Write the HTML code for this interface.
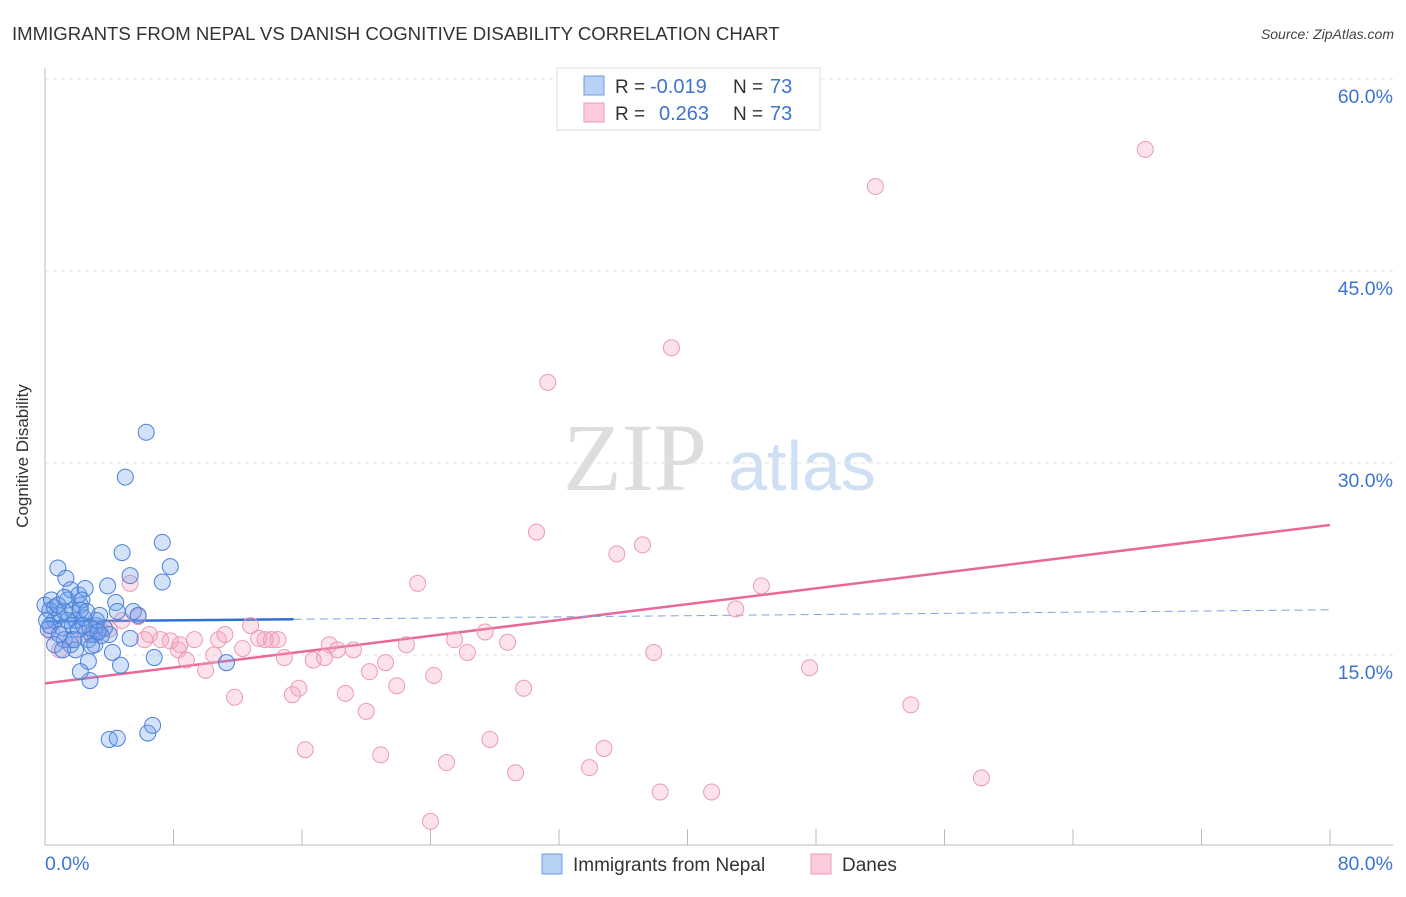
<!DOCTYPE html>
<html><head><meta charset="utf-8"><style>
body{margin:0;background:#fff;font-family:"Liberation Sans",sans-serif;}
</style></head><body>
<svg id="c" width="1406" height="892" xmlns="http://www.w3.org/2000/svg" style="font-family:'Liberation Sans',sans-serif">
<text x="12" y="40" font-size="18.6" fill="#333">IMMIGRANTS FROM NEPAL VS DANISH COGNITIVE DISABILITY CORRELATION CHART</text>
<text x="1394" y="39" font-size="14" fill="#444" font-style="italic" text-anchor="end">Source: ZipAtlas.com</text>
<text x="28" y="456" font-size="17" fill="#333" text-anchor="middle" transform="rotate(-90 28 456)">Cognitive Disability</text>
<g>
<text x="635" y="490" font-size="96" fill="#ddd" font-family="Liberation Serif" text-anchor="middle">ZIP</text>
<text x="802" y="490" font-size="70" fill="#cfe0f5" text-anchor="middle">atlas</text>
</g>
<g id="grid"></g><g id="axes"></g><g id="lines"></g><g id="pts"></g>
<g>
<rect x="557" y="68" width="263" height="62" fill="#fff" stroke="#ddd"/>
<rect x="584" y="76" width="20" height="19" fill="#b8d2f5" stroke="#6f9be0"/>
<rect x="584" y="103" width="20" height="19" fill="#fcccdb" stroke="#eb9ab6"/>
<text x="615" y="93" font-size="19" fill="#333">R = </text><text x="650" y="93" font-size="20" fill="#3c74d0">-0.019</text>
<text x="733" y="93" font-size="19" fill="#333">N = </text><text x="770" y="93" font-size="20" fill="#3c74d0">73</text>
<text x="615" y="120" font-size="19" fill="#333">R = </text><text x="659" y="120" font-size="20" fill="#3c74d0">0.263</text>
<text x="733" y="120" font-size="19" fill="#333">N = </text><text x="770" y="120" font-size="20" fill="#3c74d0">73</text>
</g>
<g>
<rect x="542" y="854" width="20" height="20" fill="#b8d2f5" stroke="#6f9be0"/>
<text x="573" y="871" font-size="19" fill="#333">Immigrants from Nepal</text>
<rect x="811" y="854" width="20" height="20" fill="#fcccdb" stroke="#eb9ab6"/>
<text x="842" y="871" font-size="19" fill="#333">Danes</text>
</g>
</svg>
<script>
const yTicks=[15,30,45,60];
const yTickLabels=["15.0%","30.0%","45.0%","60.0%"];
const xEndLabels=["0.0%","80.0%"];
const nepalX=[0,0.3,0.6,0.2,0.9,0.4,0.8,1.3,1.6,1.4,1.7,1.9,2.2,2.1,2.5,2.3,1.1,1.2,1.6,1.9,2.7,2.9,3.1,3.2,3.4,3.7,4.0,2.7,2.8,2.2,4.4,4.5,3.9,4.8,5.0,6.3,5.3,5.5,5.8,7.3,7.8,7.3,6.8,4.7,5.3,4.2,4.0,4.5,6.4,6.7,11.3,0.1,0.3,0.6,0.9,1.2,1.7,2.1,2.4,2.8,3.2,3.5,0.6,1.1,1.4,1.8,2.2,2.6,2.9,3.3,2.4,0.8,1.2];
const nepalY=[18.9,18.5,17.7,17.0,18.1,19.3,21.8,21.0,20.1,19.3,18.5,17.7,18.9,19.7,20.2,19.3,17.1,16.2,15.8,15.4,16.2,16.6,15.8,17.3,18.1,17.1,16.6,14.5,13.0,13.7,19.1,18.4,20.4,23.0,28.9,32.4,21.2,18.4,18.1,23.8,21.9,20.7,14.8,14.2,16.3,15.2,8.4,8.5,8.9,9.5,14.4,17.7,17.3,18.7,16.6,18.4,17.3,17.0,17.9,17.1,17.7,16.5,15.8,15.4,17.7,16.2,18.5,18.4,15.7,16.8,17.3,18.9,19.5];
const danesX=[68.5,51.7,39.0,31.3,30.6,35.6,37.2,23.2,44.6,43.0,5.3,5.8,4.8,4.0,3.4,2.5,1.6,0.9,0.4,6.2,7.2,7.8,8.3,8.8,9.3,10.0,10.5,10.8,11.2,11.8,12.3,12.8,13.3,13.7,14.1,14.5,14.9,15.4,15.8,16.2,16.7,17.4,17.7,18.2,18.7,19.2,20.0,20.2,20.9,21.2,21.9,22.5,24.2,24.0,25.0,25.5,26.3,27.4,27.7,28.8,29.3,29.8,33.9,34.8,37.9,38.3,41.5,47.6,53.9,58.3,3.1,6.5,8.4];
const danesY=[54.5,51.6,39.0,36.3,24.6,22.9,23.6,20.6,20.4,18.6,20.6,18.0,17.7,17.0,17.1,16.6,16.2,15.4,16.8,16.2,16.2,16.1,15.4,14.6,16.2,13.8,15.0,16.2,16.6,11.7,15.5,17.3,16.3,16.2,16.2,16.2,14.8,11.9,12.4,7.6,14.6,14.8,15.8,15.4,12.0,15.4,10.6,13.7,7.2,14.4,12.6,15.8,13.4,2.0,6.6,16.2,15.2,16.8,8.4,16.0,5.8,12.4,6.2,7.7,15.2,4.3,4.3,14.0,11.1,5.4,16.6,16.6,15.8];
const NS="http://www.w3.org/2000/svg";
const X0=45,X1=1330,Y0=847,PXPER=192/15;
function sx(v){return X0+(v/80)*(X1-X0);}
function sy(v){return Y0-v*PXPER;}
function mk(t,a,p){const e=document.createElementNS(NS,t);for(const k in a)e.setAttribute(k,a[k]);document.getElementById(p).appendChild(e);return e;}
yTicks.forEach((t,i)=>{
 const g=mk('line',{x1:45,x2:1393,y1:sy(t),y2:sy(t),stroke:'#e2e2e2','stroke-dasharray':'4,4'},'grid');
 
 
 const l=mk('text',{x:1393,y:sy(t)+24,'font-size':19.5,fill:'#3c74d0','text-anchor':'end'},'axes');
 l.textContent=yTickLabels[i];
 
 
});
const topGrid=mk('line',{x1:45,x2:1393,y1:79,y2:79,stroke:'#e2e2e2','stroke-dasharray':'4,4'},'grid');


const ya=mk('line',{x1:45,x2:45,y1:68,y2:845,stroke:'#bbb'},'axes');


const xa=mk('line',{x1:45,x2:1393,y1:845,y2:845,stroke:'#bbb'},'axes');


for(let i=0;i<=10;i++){
 const t=mk('line',{x1:sx(i*8),x2:sx(i*8),y1:829,y2:845,stroke:'#bbb'},'axes');
 
 
}
const l0=mk('text',{x:45,y:870,'font-size':19.5,fill:'#3c74d0'},'axes');l0.textContent=xEndLabels[0];


const l1=mk('text',{x:1393,y:870,'font-size':19.5,fill:'#3c74d0','text-anchor':'end'},'axes');l1.textContent=xEndLabels[1];


function reg(xs,ys){const n=xs.length;let mx=0,my=0;for(let i=0;i<n;i++){mx+=xs[i];my+=ys[i];}mx/=n;my/=n;let a=0,b=0;for(let i=0;i<n;i++){a+=(xs[i]-mx)*(ys[i]-my);b+=(xs[i]-mx)**2;}const s=a/b;return [my-s*mx,s];}
danesX.forEach((v,i)=>{
 const c=mk('circle',{cx:sx(v),cy:sy(danesY[i]),r:8,fill:'rgba(244,160,190,0.3)',stroke:'#eb9ab6','stroke-width':1},'pts');
 
 
});
nepalX.forEach((v,i)=>{
 const c=mk('circle',{cx:sx(v),cy:sy(nepalY[i]),r:8,fill:'rgba(110,160,235,0.3)',stroke:'#4a80d8','stroke-width':1},'pts');
 
 
});
const [pa,pb]=reg(danesX,danesY);
const pl=mk('line',{x1:sx(0),y1:sy(pa),x2:sx(80),y2:sy(pa+pb*80),stroke:'#e8689a','stroke-width':2.5},'lines');


const [ba,bb]=reg(nepalX,nepalY);
const bm=Math.max(...nepalX)*1.37;
const bl=mk('line',{x1:sx(0),y1:sy(ba),x2:sx(bm),y2:sy(ba+bb*bm),stroke:'#2f6fd6','stroke-width':2.5},'lines');


const bd=mk('line',{x1:sx(bm),y1:sy(ba+bb*bm),x2:sx(80),y2:sy(ba+bb*80),stroke:'#7fa4e0','stroke-width':1,'stroke-dasharray':'8,5'},'lines');


</script>
</body></html>
